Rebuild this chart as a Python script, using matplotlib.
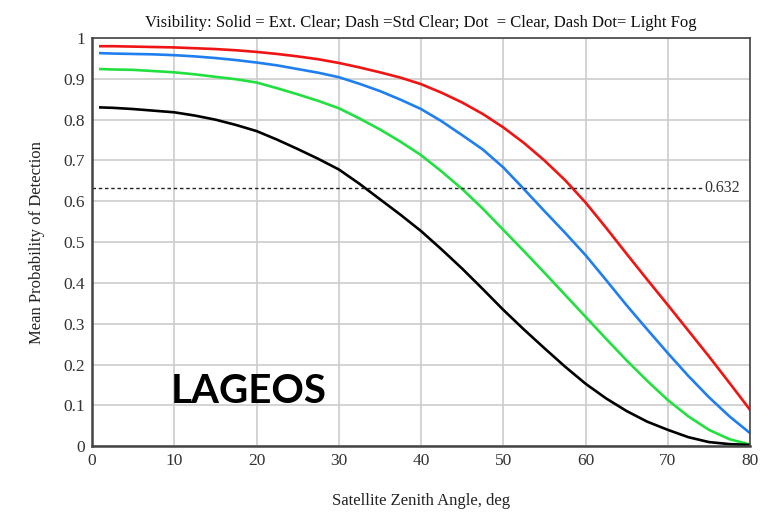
import matplotlib
matplotlib.use("Agg")
import matplotlib.pyplot as plt

# Zenith angle samples (deg) and mean probability of detection
zenith = [1, 2.5, 5, 7.5, 10, 12.5, 15, 17.5, 20, 22.5, 25, 27.5, 30, 32.5, 35,
          37.5, 40, 42.5, 45, 47.5, 50, 52.5, 55, 57.5, 60, 62.5, 65, 67.5,
          70, 72.5, 75, 77.5, 80]
ext_clear = [0.980, 0.980, 0.979, 0.978, 0.977, 0.975, 0.973, 0.970, 0.966,
             0.961, 0.955, 0.948, 0.939, 0.928, 0.916, 0.903, 0.887, 0.866,
             0.842, 0.814, 0.781, 0.743, 0.700, 0.652, 0.597, 0.535, 0.471,
             0.408, 0.346, 0.283, 0.220, 0.155, 0.089]
std_clear = [0.963, 0.962, 0.961, 0.960, 0.958, 0.955, 0.951, 0.946, 0.940,
             0.933, 0.924, 0.915, 0.904, 0.888, 0.870, 0.849, 0.826, 0.796,
             0.762, 0.727, 0.683, 0.630, 0.576, 0.523, 0.468, 0.407, 0.345,
             0.286, 0.228, 0.172, 0.120, 0.073, 0.032]
clear = [0.924, 0.923, 0.922, 0.919, 0.916, 0.911, 0.905, 0.899, 0.891,
         0.877, 0.862, 0.846, 0.828, 0.803, 0.776, 0.746, 0.713, 0.673,
         0.630, 0.582, 0.530, 0.478, 0.425, 0.371, 0.317, 0.263, 0.210,
         0.160, 0.113, 0.073, 0.040, 0.017, 0.004]
light_fog = [0.830, 0.829, 0.826, 0.822, 0.818, 0.810, 0.800, 0.787, 0.772,
             0.751, 0.728, 0.704, 0.678, 0.643, 0.605, 0.567, 0.527, 0.482,
             0.435, 0.385, 0.334, 0.286, 0.240, 0.195, 0.153, 0.117, 0.086,
             0.060, 0.040, 0.022, 0.010, 0.005, 0.003]
threshold = 0.632

xticks = [0, 10, 20, 30, 40, 50, 60, 70, 80]
yticks = [0, 0.1, 0.2, 0.3, 0.4, 0.5, 0.6, 0.7, 0.8, 0.9, 1.0]
ytick_labels = ["0", "0.1", "0.2", "0.3", "0.4", "0.5", "0.6", "0.7", "0.8", "0.9", "1"]

serif = "Liberation Serif"

fig = plt.figure(figsize=(7.74, 5.14), dpi=100)
ax = fig.add_axes([0.119, 0.132, 0.850, 0.794])

ax.plot(zenith, ext_clear, color="#f01414", lw=1.9)
ax.plot(zenith, std_clear, color="#1f7ff0", lw=1.9)
ax.plot(zenith, clear, color="#22e040", lw=1.9)
ax.plot(zenith, light_fog, color="black", lw=1.9)

# 1/e threshold line
ax.plot([0, 74.3], [threshold, threshold], color="#222222", lw=1.0,
        linestyle=(0, (2.5, 2)))
ax.text(74.5, threshold, "0.632", fontsize=11.5, family=serif,
        color="#333333", ha="left", va="center")

ax.text(9.6, 0.135, "LAGEOS", fontsize=29, fontweight="bold", family="Lato",
        color="black", ha="left", va="center")

ax.set_xlim(0, 80)
ax.set_ylim(0, 1)
ax.set_xticks(xticks)
ax.set_yticks(yticks)
ax.set_yticklabels(ytick_labels)
ax.grid(True, color="#cccccc", lw=1.2)
ax.set_axisbelow(True)
ax.tick_params(length=0, pad=5, labelsize=12.5, labelcolor="#333333")
for lab in ax.get_xticklabels() + ax.get_yticklabels():
    lab.set_family(serif)

for side in ["left", "bottom"]:
    ax.spines[side].set_linewidth(1.8)
    ax.spines[side].set_color("#444444")
for side in ["top", "right"]:
    ax.spines[side].set_linewidth(1.2)
    ax.spines[side].set_color("#444444")

ax.set_xlabel("Satellite Zenith Angle, deg", fontsize=12, family=serif,
              color="#222222", labelpad=17)
ax.set_ylabel("Mean Probability of Detection", fontsize=12, family=serif,
              color="#222222", labelpad=13)
ax.set_title("Visibility: Solid = Ext. Clear; Dash =Std Clear; Dot  = Clear, Dash Dot= Light Fog",
             fontsize=12, family=serif, color="#111111", pad=8)

fig.savefig("out.png", dpi=100)
